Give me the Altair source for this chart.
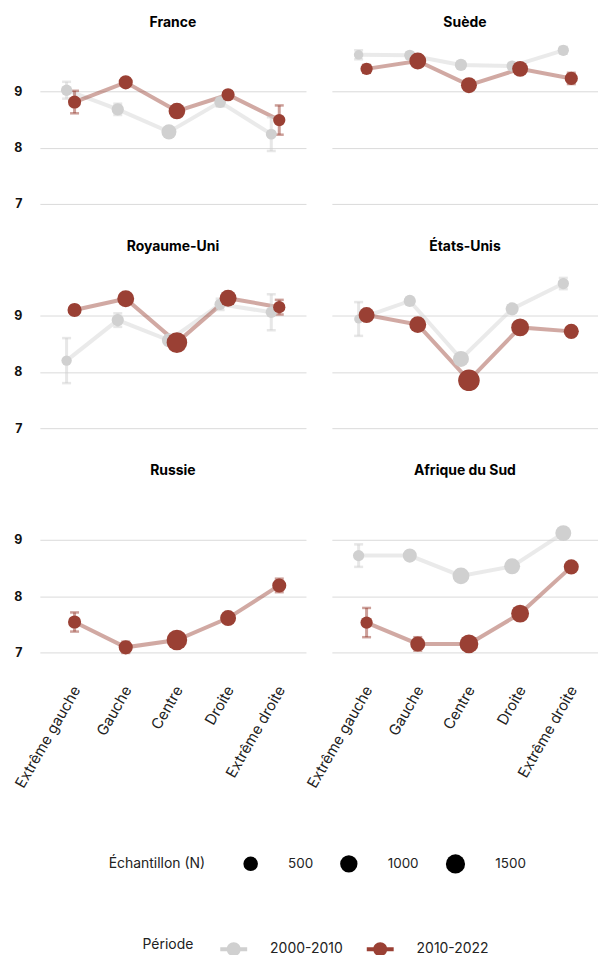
import altair as alt
import pandas as pd

categories = ["Extrême gauche", "Gauche", "Centre", "Droite", "Extrême droite"]
countries = ["France", "Suède", "Royaume-Uni", "États-Unis", "Russie", "Afrique du Sud"]
periods = ["2000-2010", "2010-2022"]

# Mean score, half-width of the error bar and sample size, by category
FR_A = [9.02, 8.68, 8.28, 8.81, 8.24]
FR_A_ERR = [0.15, 0.10, 0.05, 0.08, 0.30]
FR_A_N = [180, 250, 570, 210, 160]
FR_B = [8.81, 9.16, 8.65, 8.94, 8.49]
FR_B_ERR = [0.20, 0.05, 0.05, 0.05, 0.26]
FR_B_N = [330, 440, 850, 330, 250]

SE_A = [9.65, 9.64, 9.47, 9.45, 9.73]
SE_A_ERR = [0.08, 0.05, 0.05, 0.05, 0.06]
SE_A_N = [90, 180, 250, 180, 180]
SE_B = [9.40, 9.54, 9.11, 9.40, 9.23]
SE_B_ERR = [0.07, 0.04, 0.04, 0.04, 0.10]
SE_B_N = [250, 910, 720, 720, 330]

UK_A = [8.20, 8.92, 8.56, 9.20, 9.06]
UK_A_ERR = [0.40, 0.12, 0.08, 0.10, 0.32]
UK_A_N = [130, 250, 440, 180, 180]
UK_B = [9.10, 9.30, 8.52, 9.31, 9.15]
UK_B_ERR = [0.08, 0.05, 0.04, 0.05, 0.13]
UK_B_N = [440, 910, 2000, 910, 250]

US_A = [8.94, 9.26, 8.23, 9.12, 9.57]
US_A_ERR = [0.30, 0.06, 0.06, 0.06, 0.10]
US_A_N = [70, 250, 720, 330, 180]
US_B = [9.01, 8.84, 7.85, 8.79, 8.72]
US_B_ERR = [0.05, 0.05, 0.04, 0.05, 0.06]
US_B_N = [720, 910, 2400, 1130, 570]

RU_B = [7.54, 7.09, 7.22, 7.61, 8.19]
RU_B_ERR = [0.17, 0.10, 0.05, 0.06, 0.12]
RU_B_N = [330, 440, 2000, 720, 440]

ZA_A = [8.72, 8.72, 8.36, 8.53, 9.12]
ZA_A_ERR = [0.20, 0.06, 0.05, 0.05, 0.06]
ZA_A_N = [180, 440, 910, 720, 720]
ZA_B = [7.53, 7.15, 7.15, 7.69, 8.52]
ZA_B_ERR = [0.26, 0.12, 0.06, 0.06, 0.06]
ZA_B_N = [250, 570, 1390, 1130, 570]

series = [
    ("France", "2000-2010", FR_A, FR_A_ERR, FR_A_N),
    ("France", "2010-2022", FR_B, FR_B_ERR, FR_B_N),
    ("Suède", "2000-2010", SE_A, SE_A_ERR, SE_A_N),
    ("Suède", "2010-2022", SE_B, SE_B_ERR, SE_B_N),
    ("Royaume-Uni", "2000-2010", UK_A, UK_A_ERR, UK_A_N),
    ("Royaume-Uni", "2010-2022", UK_B, UK_B_ERR, UK_B_N),
    ("États-Unis", "2000-2010", US_A, US_A_ERR, US_A_N),
    ("États-Unis", "2010-2022", US_B, US_B_ERR, US_B_N),
    ("Russie", "2010-2022", RU_B, RU_B_ERR, RU_B_N),
    ("Afrique du Sud", "2000-2010", ZA_A, ZA_A_ERR, ZA_A_N),
    ("Afrique du Sud", "2010-2022", ZA_B, ZA_B_ERR, ZA_B_N),
]

rows = []
for pays, periode, means, errs, ns in series:
    for cat, m, e, n in zip(categories, means, errs, ns):
        rows.append({"pays": pays, "periode": periode, "categorie": cat,
                     "score": m, "lo": m - e, "hi": m + e, "n": n})
df = pd.DataFrame(rows)

GRAY = "#d0d0d0"
RED = "#9a4034"
FONT = "Inter"
PANEL_W = 267
PANEL_H = 175
STEP = PANEL_W / 5.2          # band step with 0.1 outer padding
DODGE = 4                      # horizontal shift of each period

# line + dot glyph for the period legend
PERIOD_SYMBOL = ("M-1,-0.15 L1,-0.15 L1,0.15 L-1,0.15 Z "
                 "M0.52,0 A0.52,0.52 0 1 1 -0.52,0 A0.52,0.52 0 1 1 0.52,0 Z")

x_enc = alt.X("categorie:N", sort=categories, title=None,
              scale=alt.Scale(paddingInner=0, paddingOuter=0.1),
              axis=alt.Axis(labelAngle=-60, labelAlign="right", labelBaseline="top",
                            labelFontSize=15, labelColor="#222222", labelPadding=22,
                            labelFont=FONT, grid=False, domain=False, ticks=False))
x_off = alt.XOffset("periode:N", sort=periods,
                    scale=alt.Scale(type="point", padding=0,
                                    range=[STEP / 2 - DODGE, STEP / 2 + DODGE]))
y_scale = alt.Scale(domain=[6.84, 9.94], nice=False, zero=False)
y_axis = alt.Axis(values=[7, 8, 9], format="d", labelFontSize=12.5,
                  labelFontWeight="bold", labelColor="#111111", labelPadding=18,
                  labelFont=FONT, grid=True, gridColor="#dadada", gridWidth=1,
                  domain=False, ticks=False)
color_enc = alt.Color(
    "periode:N", sort=periods,
    scale=alt.Scale(domain=periods, range=[GRAY, RED]),
    legend=alt.Legend(title="Période", orient="none", direction="horizontal",
                      titleOrient="left", legendX=103, legendY=900,
                      symbolType=PERIOD_SYMBOL, symbolSize=729,
                      symbolStrokeWidth=0, symbolOpacity=1,
                      titlePadding=26, labelOffset=23, columnPadding=24,
                      titleFontSize=14, titleFontWeight="normal", titleColor="#222222",
                      labelFontSize=14, labelColor="#222222",
                      titleFont=FONT, labelFont=FONT),
)

base = alt.Chart().encode(x=x_enc, xOffset=x_off, color=color_enc)

lines = base.mark_line(strokeWidth=4, opacity=0.45).encode(
    y=alt.Y("score:Q", scale=y_scale, axis=y_axis, title=None),
)
bars = base.mark_rule(strokeWidth=3, opacity=0.5).encode(
    y=alt.Y("lo:Q", scale=y_scale), y2="hi:Q",
)
caps_lo = base.mark_tick(thickness=2.5, size=9, opacity=0.5).encode(
    y=alt.Y("lo:Q", scale=y_scale),
)
caps_hi = base.mark_tick(thickness=2.5, size=9, opacity=0.5).encode(
    y=alt.Y("hi:Q", scale=y_scale),
)
dots = base.mark_circle(opacity=1).encode(
    y=alt.Y("score:Q", scale=y_scale),
    size=alt.Size("n:Q",
                  scale=alt.Scale(type="sqrt", domain=[0, 1500], range=[0, 370]),
                  legend=alt.Legend(title="Échantillon (N)", orient="none",
                                    direction="horizontal", titleOrient="left",
                                    legendX=69, legendY=818, format="d",
                                    values=[500, 1000, 1500],
                                    symbolFillColor="black", symbolStrokeColor="black",
                                    symbolStrokeWidth=0, symbolOpacity=1,
                                    titlePadding=38, labelOffset=30, columnPadding=26,
                                    titleFontSize=14, titleFontWeight="normal",
                                    titleColor="#222222", labelFontSize=13.5,
                                    labelColor="#222222", titleFont=FONT, labelFont=FONT)),
)

panel = alt.layer(lines, bars, caps_lo, caps_hi, dots, data=df).properties(
    width=PANEL_W, height=PANEL_H
)

chart = panel.facet(
    facet=alt.Facet("pays:N", sort=countries, title=None,
                    header=alt.Header(labelFontSize=14, labelFontWeight="bold",
                                      labelColor="#000000", labelFont=FONT,
                                      labelPadding=9)),
    columns=2,
    spacing={"row": 27, "column": 26},
).resolve_scale(
    x="shared", y="shared"
).properties(
    padding={"left": 12, "top": 14, "right": 0, "bottom": 0},
).configure(
    font=FONT,
).configure_view(
    stroke=None
)

chart.save("out.html", embed_options={"renderer": "svg", "actions": False})
